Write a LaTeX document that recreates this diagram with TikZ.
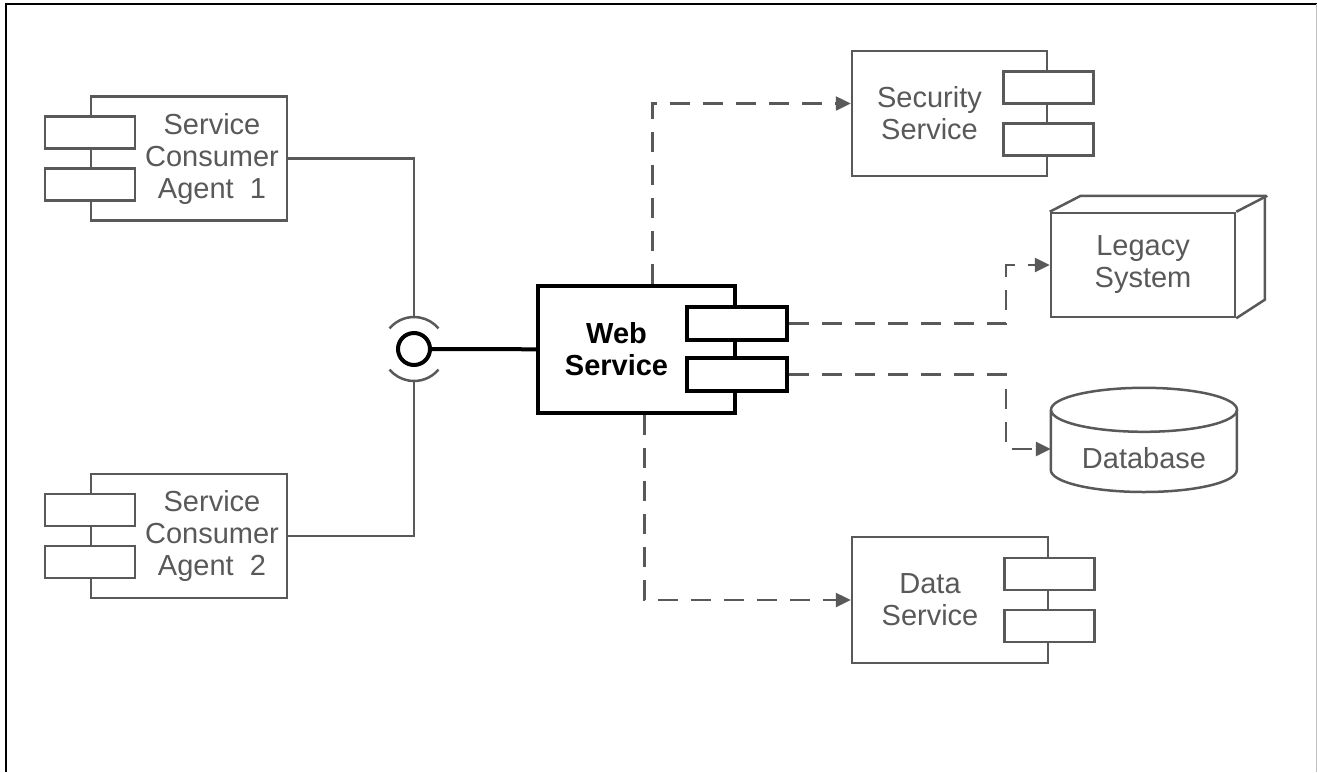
\documentclass[tikz,border=0pt]{standalone}
\usepackage{fontspec}
\setmainfont{Liberation Sans}
\usetikzlibrary{positioning, shapes.geometric, arrows.meta}
\definecolor{linegray}{HTML}{595959}

\begin{document}
\begin{tikzpicture}[x=1pt, y=-1pt,
    every node/.style={font=\fontsize{29}{32}\selectfont},
    comp/.style={rectangle, draw=linegray, line width=2.5pt, fill=white, text=linegray, align=center, minimum width=196pt, minimum height=124pt},
    port/.style={rectangle, draw=linegray, line width=2.5pt, fill=white, minimum width=90pt, minimum height=32pt, inner sep=0pt},
    txt/.style={text=linegray, align=center, inner sep=0pt},
    wire/.style={draw=linegray, line width=2.5pt},
    dep/.style={wire, dash pattern=on 20pt off 13pt, -{Triangle[length=15pt, width=14pt]}}]
    \useasboundingbox (0,0) rectangle (1317,772);
    % frame
    \draw[line width=2.5pt] (6,772) -- (6,4) -- (1317,4);
    \draw[black!25, line width=1pt] (1316,4) -- (1316,772);
    % consumers
    \node[comp] (agentA) at (189,158.5) {};
    \node[port] (agentA-p1) at ([yshift=26pt]agentA.west) {};
    \node[port] (agentA-p2) at ([yshift=-26pt]agentA.west) {};
    \node[txt] (agentA-t) at ([xshift=23pt]agentA.center) {Service\\Consumer\\Agent~~1};
    \node[comp] (agentB) at (189,536) {};
    \node[port] (agentB-p1) at ([yshift=26pt]agentB.west) {};
    \node[port] (agentB-p2) at ([yshift=-26pt]agentB.west) {};
    \node[txt] (agentB-t) at ([xshift=23pt]agentB.center) {Service\\Consumer\\Agent~~2};
    % provided interface
    \node[circle, draw=black, line width=4pt, fill=white, minimum size=32pt, inner sep=0pt] (iface) at (414,349) {};
    \path (iface.center) ++(0,-32) coordinate (sockA) ++(0,64) coordinate (sockB);
    \draw[wire] ([shift={(220:32)}]iface.center) arc[start angle=220, end angle=320, radius=32];
    \draw[wire] ([shift={(40:32)}]iface.center) arc[start angle=40, end angle=140, radius=32];
    % web service
    \node[comp, draw=black, line width=4pt, minimum width=197pt, minimum height=127pt] (web) at (636.5,349.5) {};
    \node[port, draw=black, line width=4pt, minimum width=100pt, minimum height=33pt] (web-p1) at ([yshift=26pt]web.east) {};
    \node[port, draw=black, line width=4pt, minimum width=100pt, minimum height=33pt] (web-p2) at ([yshift=-25pt]web.east) {};
    \node[txt, text=black, font=\fontsize{29}{32}\selectfont\bfseries] (web-t) at ([xshift=-20pt]web.center) {Web\\Service};
    % back end
    \node[comp, minimum width=195pt, minimum height=125pt] (secur) at (949.5,113.5) {};
    \node[port] (secur-p1) at ([yshift=26pt]secur.east) {};
    \node[port] (secur-p2) at ([yshift=-26pt]secur.east) {};
    \node[txt] (secur-t) at ([xshift=-20pt]secur.center) {Security\\Service};
    \node[comp, minimum height=126pt] (datas) at (950,600) {};
    \node[port] (datas-p1) at ([yshift=26pt]datas.east) {};
    \node[port] (datas-p2) at ([yshift=-26pt]datas.east) {};
    \node[txt] (datas-t) at ([xshift=-20pt]datas.center) {Data\\Service};
    \node[comp, minimum width=184pt, minimum height=104pt] (legacy) at (1143,265) {Legacy\\System};
    \draw[wire] (legacy.north west) -- ++(31,-16) -| ++(184,104) -- (legacy.south east);
    \draw[wire] (legacy.north east) -- ++(31,-16);
    \node[minimum width=186pt, minimum height=104pt, inner sep=0pt] (db) at (1144,440) {};
    \draw[wire] (db.north) ++(0,22) ellipse [x radius=93, y radius=22];
    \draw[wire] (db.west) ++(0,-30) -- ++(0,60) arc[start angle=180, end angle=0, x radius=93, y radius=22] -- ++(0,-60);
    \node[txt] (db-t) at ([yshift=-18pt]db.center) {Database};
    % connectors
    \draw[wire] (agentA.east) -| (sockA);
    \draw[wire] (agentB.east) -| (sockB);
    \draw[wire, draw=black, line width=4pt] (iface) -- (web);
    \draw[dep] ([xshift=16pt]web.north) |- ([yshift=10pt]secur.west);
    \draw[dep] (web-p1.east) -- ++(217,0) |- (legacy.west);
    \draw[dep] (web-p2.east) -- ++(217,0) |- ([yshift=-9pt]db.west);
    \draw[dep] ([xshift=8pt]web.south) |- (datas.west);
\end{tikzpicture}
\end{document}
